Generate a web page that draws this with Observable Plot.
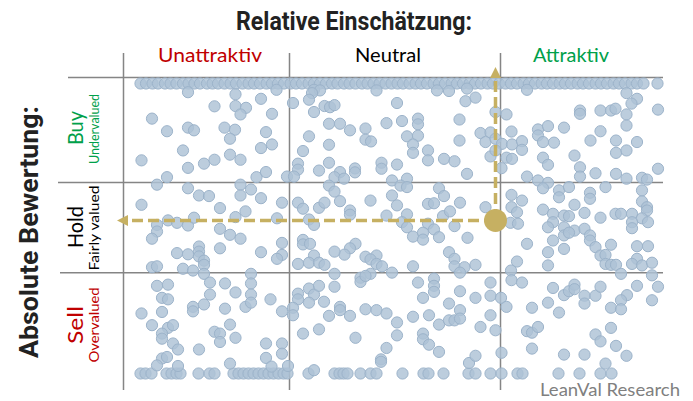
<!DOCTYPE html>
<html><head><meta charset="utf-8">
<script src="https://cdn.jsdelivr.net/npm/d3@7"></script>
<script src="https://cdn.jsdelivr.net/npm/@observablehq/plot@0.6"></script>
<style>html,body{margin:0;padding:0;background:#fff}svg{display:block}</style>
</head><body><div id="chart"></div>
<script>
// ---- data: relative score (x) and absolute score (y) per stock ----
const absCap = 48.3; // scores are capped at +/- this value
const topCapRel = [-52,-50.9,-49.6,-48.5,-47.1,-46,-44.8,-43.5,-42.4,-41.2,-40.1,-38.7,-37.6,-36.5,-35.2,-34,-32.9,-31.6,-30.4,-29.3,-28.1,-26.8,-25.7,-24.5,-23.3,-22,-20.9,-19.7,-18.4,-17.3,-16.1,-14.9,-13.7,-12.6,-11.3,-10.2,-9,-7.7,-6.6,-5.4,-4.2,-3,-1.8,-0.6,0.5,1.8,3,4.1,5.3,6.6,7.7,8.9,10.2,11.3,12.5,13.8,14.9,16.1,17.4,18.5,19.7,21,22.1,23.3,24.6,25.7,26.9,28.2,29.3,30.5,31.8,32.9,34.1,35.4,36.5,37.7,39,40.1,41.3,42.6,43.7,44.9,46.2,47.3,48.6,51.4];
const bottomCapRel = [-52,-51,-49.8,-46.8,-45.8,-44.8,-44,-40.4,-38.2,-37.2,-33.4,-32.4,-31.4,-30.4,-29.4,-28.4,-27.4,-26.4,-25.4,-24.4,-23.4,-22.6,-18.4,-13.2,-12.2,-11.4,-10.6,-8,-6,-4.8,0.4,4.6,5.6,8.6,13.6,15,18,20.2,23.4,24.4,31.6,35.8,40,42.2];
const buyPoints = [[-42.5,45.4],[-33,44.7],[-27.9,43.2],[-37.2,40.7],[-33,40.8],[-30.9,40.2],[-32,38],[-49.7,36.6],[-42.5,33.6],[-41.3,32.7],[-46.7,32.4],[-35.2,33.6],[-33.1,32.9],[-34.1,29.9],[-26.9,32.1],[-43.5,26],[-27.9,26.8],[-51.8,22.7],[-42.5,20.2],[-39.3,21.6],[-37.2,22.9],[-34.1,24.6],[-32,22.9],[-46.7,17.1],[-28.8,17.1],[-26.9,18.8],
[-24.8,46.2],[-17.3,46.2],[-16.1,46],[-17.7,45.1],[-4.8,46],[7.3,46],[9.7,45.8],[13.3,46.6],[-21.5,41.8],[-18.3,42.9],[-15.2,40.8],[-14.1,40.4],[-13.2,41.1],[-0.7,41.8],[13,42.4],[-25.7,38.2],[-17.3,38.8],[11.8,36.3],[-14.3,34.9],[-12.1,34.9],[-10.1,32.7],[-7,33.3],[-2.8,35.1],[0.3,35.8],[3.5,36.6],[3.5,34.7],[-18.3,30.7],[1.3,30.7],[3.5,30.9],[-7,29.6],[-5.9,29],[2.5,28],[11.8,29.3],[-25.7,28],[-14.3,27.9],[-19.5,25.8],[2.5,25.2],[5.5,26],[5.5,22.7],[8.7,23.2],[10.8,22.4],[-14.3,21.9],[-20.5,21.6],[-20.5,19.6],[-3.8,21.9],[-3.8,19.9],[-0.7,21.3],[-9.1,20],[-9.1,18.7],[-16.3,19.3],[-12.1,18.8],[-22.7,17.3],[-21.3,17.3],[-13.2,17.1],[-11.3,16.6],[-1.7,16],[1.3,16.6],[13.3,18.2],
[25.3,46.2],[15,43.6],[45.2,45.1],[47.3,43.2],[46.2,41.6],[19,38.8],[21.2,38],[35.9,39.3],[35.9,38.2],[40,39.3],[42.1,39.3],[43,39.9],[45.2,38],[51.5,39.6],[22.2,32.3],[27.5,33],[27.5,31],[29.5,34.1],[32.7,33.6],[40,32.4],[45.2,34.3],[16,31.8],[18,32],[17,28.8],[19,29.9],[20.3,28.2],[22.3,28],[24.3,29.1],[24.3,26.2],[28.5,28.8],[30.7,28.6],[38,29.3],[43.1,29.3],[47.3,28.8],[43.1,25.2],[45.2,26],[34.8,24.3],[18,24],[19,26],[21.2,23.6],[22.3,23.2],[28.5,23.6],[29.5,21.2],[20.2,20.1],[35.9,20.4],[25.3,17.3],[27.5,16],[35.9,17.3],[39,18.4],[43.1,18.2],[45.2,16.6],[48.3,16.9],[51.5,19.9]];
const holdPoints = [[-48.7,14.6],[-42.5,13.4],[-40.3,11],[-38.3,10.8],[-32,14.6],[-32,11],[-29.9,13],[-27.9,10.1],[-51.8,7.9],[-36.1,6.8],[-31,5.7],[-33,3.8],[-46.5,2.7],[-48.7,1.2],[-44.7,1.9],[-42.5,1],[-41.3,3.6],[-48.7,-1],[-49.7,-3.4],[-36.1,-0.1],[-34.1,-2.1],[-32,-3.4],[-36.1,-6.6],[-40.3,-6],[-40.3,-7.7],[-40.3,-9.3],[-44.7,-8.2],[-42.5,-8.6],[-39.3,-10.7],[-39.3,-12.1],[-27.9,-7.9],[-49.7,-12.9],[-48.7,-12.6],[-43.5,-13.4],[-41.5,-14],[-29.9,-15.1],[-39.3,-15.1],
[0,14.3],[1.3,13.8],[-14.3,14.3],[-13.2,12.3],[7.7,13.4],[-23.7,8.6],[-20.5,8.6],[-19.5,6.6],[-16.3,6.9],[-15.2,8.6],[-12.1,9.1],[-6,9.3],[-1.7,11],[-0.7,7.7],[8.7,10.8],[5.5,8.2],[6.7,8.4],[11.9,8.6],[-10.1,6],[-10.1,4.6],[-24.7,3.4],[-18.3,3],[-17.3,1.2],[-2.8,4.3],[1.3,4.7],[0.3,2.1],[1.3,0.4],[8.5,4.1],[9.9,5.7],[5.5,1.6],[6.7,-0.3],[10.8,0.8],[2.5,-2.7],[4.5,-1.4],[4.5,-3.7],[7.7,-2.9],[13.4,-3.1],[-19.5,-3.8],[-19.5,-5.3],[-18.1,-5.1],[-23.7,-4.8],[-9,-5.1],[-10.1,-6.6],[-11.2,-8.7],[-13.2,-7.7],[-23.7,-8.8],[-24.7,-10.1],[-17.3,-9],[-7,-9.4],[-4.8,-9],[-6,-10.3],[-4.8,-11.8],[-3.7,-12.6],[-20.5,-11.8],[-18.3,-11.4],[-16.3,-11.4],[-15.2,-12.1],[9.7,-7.9],[10.8,-10.1],[10.8,-12.6],[12.8,-12.9],[2.5,-12.6],[-13.2,-15.1],[-6,-15.1],
[29.5,15.2],[28.5,13.4],[31.7,12.7],[31.7,10.4],[33.7,13.8],[37.9,11.9],[37.9,9.9],[41,13.8],[49.3,16.3],[48.3,12.7],[48.3,9],[49.3,7.1],[49.3,6],[22.2,11.2],[24.3,9.3],[22.2,7.1],[23.3,5.4],[17,7.1],[28.5,6.3],[34.8,7.9],[36.8,5.2],[30.5,4.9],[32.7,4.3],[33.7,4.1],[43,4.9],[44.1,4.9],[46.3,4.9],[40,3.6],[48.3,3.4],[22,1.9],[23.5,1.6],[30.5,2.1],[29.5,0.4],[46.3,2.1],[46.3,0.1],[49.5,2.1],[32.7,0.4],[34.8,-0.7],[36.8,-0.1],[32.7,-2.3],[33.7,-1.4],[37.9,-2.3],[37.9,-4],[30.5,-4],[32.7,-6.8],[39,-6.2],[42.1,-5.4],[25.3,-5.1],[29.5,-7.9],[40,-9],[41,-8.8],[41,-11.8],[42.1,-12.1],[43.1,-12.1],[47.3,-5.9],[49.5,-5.9],[47.3,-10.1],[46.3,-11.8],[48.3,-12.3],[50.3,-11.4],[23.3,-11],[29.5,-12.3],[15,-12.1],[22.1,-14],[44.1,-15.1]];
const sellPoints = [[-48.7,-19.1],[-46.5,-18.7],[-47.7,-23.1],[-46.5,-23.6],[-51.8,-28.3],[-47.7,-27.8],[-49.7,-32.2],[-46.5,-33.1],[-45.5,-32.2],[-47.7,-35],[-47.7,-36.7],[-45.5,-38.3],[-44.5,-40.3],[-47.7,-43.3],[-46.7,-42.8],[-48.7,-45.6],[-44.5,-45.8],[-41.5,-26.1],[-41.5,-27.6],[-38.1,-18],[-38.1,-22],[-39.3,-25.3],[-35.1,-18.3],[-33,-21.3],[-35.1,-26.7],[-31,-26.1],[-29.9,-18.3],[-29.9,-22],[-29.9,-24.7],[-26,-23.6],[-34.1,-32],[-37.2,-34.4],[-36.1,-35],[-36.1,-37.8],[-33,-36.4],[-40.3,-40.3],[-26.9,-38.3],[-26.9,-43.1],[-34.1,-45],[-25.8,-46],
[-23.7,-27.6],[-20.5,-21.7],[-20.5,-23.6],[-18.3,-20],[-17.3,-22],[-16.3,-19.1],[-18.3,-24.7],[-15.3,-24.4],[-13.2,-19.4],[-8,-16.4],[-8,-17.8],[-7,-15.8],[-1.7,-14.7],[-21.5,-26.4],[-21.5,-28.9],[-12.1,-26.1],[-12.1,-27.2],[-14.3,-29.1],[-10.1,-29.1],[-7,-26.9],[-4.8,-27.2],[-2.8,-28.3],[-0.7,-31.3],[-0.7,-35.6],[3.5,-18],[4.5,-23.1],[6.7,-16.7],[6.7,-19.1],[6.7,-21.1],[11.9,-20.9],[11.9,-14.7],[9.7,-25],[11.9,-27.2],[5.7,-28.9],[2.5,-29.4],[7.7,-32],[9.7,-30.6],[10.8,-30.6],[11.9,-30],[-19.5,-35],[-16.3,-33.6],[-9,-36.4],[4.5,-35],[4.5,-36.9],[5.7,-38.7],[7.7,-41.1],[-2.8,-39.8],[-3.9,-43.6],[-3.9,-44.4],[-23.7,-38.3],[-23.7,-41.7],[-22.5,-45.8],[-17.3,-47.2],[13.7,-44.8],
[22.2,-17.2],[24.3,-18],[18,-18],[15,-23.1],[18,-22.4],[20.1,-23.1],[21.2,-26.1],[30.5,-19.8],[32.7,-22.2],[33.7,-20.9],[34.8,-18.7],[34.8,-20.2],[36.8,-22.4],[36.8,-25],[39,-22.4],[40,-19.4],[47.3,-19.1],[50.3,-15.6],[51.5,-19.4],[45.3,-22.2],[44.1,-23.9],[42.1,-26.4],[44.1,-26.9],[50.3,-23.9],[26.3,-26.4],[29.5,-24.7],[31.7,-28],[18,-28.9],[16,-32.8],[19,-33.9],[25.3,-34.2],[26.3,-34.7],[27.5,-32.8],[39,-35.3],[40,-37.6],[42.1,-33.1],[43.1,-39.1],[45.2,-42.4],[26.3,-40],[20.2,-41.4],[15,-42.4],[32.7,-42],[36.8,-42],[41,-45]];

// highlighted stock and arrow tips
const highlight = {rel: 19, abs: 2.7};
const arrowTipRel = -56.7, arrowTipAbs = 53.8;

// grid: relative thresholds, absolute thresholds
const relThresholds = [-55.4, -22.2, 20];
const absLines = [{y: 50.3, x1: -66.4}, {y: 15.3, x1: -68.4}, {y: -14.7, x1: -68}];
const gridRight = 52.6, gridTop = 58.3, gridBottom = -54;

// labels
const colLabels = ["Unattraktiv", "Neutral", "Attraktiv"];
const colLabelRel = [-38, -2.4, 34.2];
const colLabelLen = [104, 66, 76];
const colColors = ["#c00000", "#000000", "#00a04a"];
const rowLabels = ["Buy", "Hold", "Sell"];
const rowLabelLen = [34, 42, 38];
const rowSubLabels = ["Undervalued", "Fairly valued", "Overvalued"];
const rowSubLen = [70, 85, 75];
const rowLabelAbs = [33.3, 0.3, -32.3];
const rowSubAbs = [33, 0, -32.3];
const rowColors = ["#00a04a", "#000000", "#c00000"];

const stocks = [
  ...topCapRel.map(x => ({rel: x, abs: absCap})),
  ...bottomCapRel.map(x => ({rel: x, abs: -absCap})),
  ...buyPoints.map(([x, y]) => ({rel: x, abs: y})),
  ...holdPoints.map(([x, y]) => ({rel: x, abs: y})),
  ...sellPoints.map(([x, y]) => ({rel: x, abs: y}))
];

const gold = "#c6b062";
const triLeft = {draw(ctx) { ctx.moveTo(0, 0); ctx.lineTo(11, -5.5); ctx.lineTo(11, 5.5); ctx.closePath(); }};
const triUp = {draw(ctx) { ctx.moveTo(0, 0); ctx.lineTo(-5.5, 11); ctx.lineTo(5.5, 11); ctx.closePath(); }};

const plot = Plot.plot({
  width: 693, height: 401,
  marginLeft: 140, marginRight: 36, marginTop: 83, marginBottom: 28,
  x: {domain: [-52, 51.4], axis: null},
  y: {domain: [-48.3, 48.3], axis: null},
  style: {background: "#fff"},
  marks: [
    Plot.ruleY(absLines, {y: "y", x1: "x1", x2: () => gridRight, stroke: "#858585", strokeWidth: 1.5}),
    Plot.ruleX(relThresholds, {x: d => d, y1: () => gridTop, y2: () => gridBottom, stroke: "#858585", strokeWidth: 1.5}),
    Plot.dot(stocks, {x: "rel", y: "abs", r: 5.6, fill: "#adc2d6", fillOpacity: 0.82, stroke: "#9cb3ca", strokeWidth: 1}),
    Plot.ruleY([highlight], {y: "abs", x1: "rel", x2: () => arrowTipRel + 2.2, stroke: gold, strokeWidth: 3.5, strokeDasharray: "11,5"}),
    Plot.ruleX([highlight], {x: "rel", y1: "abs", y2: () => arrowTipAbs - 3.7, stroke: gold, strokeWidth: 3.5, strokeDasharray: "11,5"}),
    Plot.dot([{rel: arrowTipRel, abs: highlight.abs}], {x: "rel", y: "abs", symbol: triLeft, fill: gold, stroke: "none"}),
    Plot.dot([{rel: highlight.rel, abs: arrowTipAbs}], {x: "rel", y: "abs", symbol: triUp, fill: gold, stroke: "none"}),
    Plot.dot([highlight], {x: "rel", y: "abs", r: 11.5, fill: gold, stroke: "none"})
  ]
});

const sx = plot.scale("x"), sy = plot.scale("y");
const svg = d3.select(plot);
function txt(s, x, y, o = {}) {
  const t = svg.append("text").text(s)
    .attr("x", x).attr("y", y)
    .attr("font-family", o.font || "Lato, 'Open Sans', sans-serif")
    .attr("font-size", o.size || 16)
    .attr("font-weight", o.weight || 400)
    .attr("fill", o.color || "#000")
    .attr("text-anchor", o.anchor || "middle");
  if (o.rotate) t.attr("transform", `rotate(${o.rotate},${x},${y})`);
  if (o.len) t.attr("textLength", o.len).attr("lengthAdjust", "spacingAndGlyphs");
  return t;
}
txt("Relative Einschätzung:", 354, 30, {font: "Roboto, sans-serif", size: 25, weight: 700, color: "#222", len: 236});
colLabels.forEach((l, i) => txt(l, sx.apply(colLabelRel[i]), 62, {size: 19.5, color: colColors[i], len: colLabelLen[i]}));
txt("Absolute Bewertung:", 38, 232, {font: "Roboto, sans-serif", size: 25, weight: 700, color: "#222", rotate: -90, len: 252});
rowLabels.forEach((l, i) => txt(l, 83, sy.apply(rowLabelAbs[i]), {size: 21, color: rowColors[i], rotate: -90, len: rowLabelLen[i]}));
rowSubLabels.forEach((l, i) => txt(l, 99, sy.apply(rowSubAbs[i]), {size: 14, color: rowColors[i], rotate: -90, len: rowSubLen[i]}));
txt("LeanVal Research", 680, 396, {size: 17, color: "#808080", anchor: "end", len: 140});

document.getElementById("chart").appendChild(plot);
</script>
</body></html>
